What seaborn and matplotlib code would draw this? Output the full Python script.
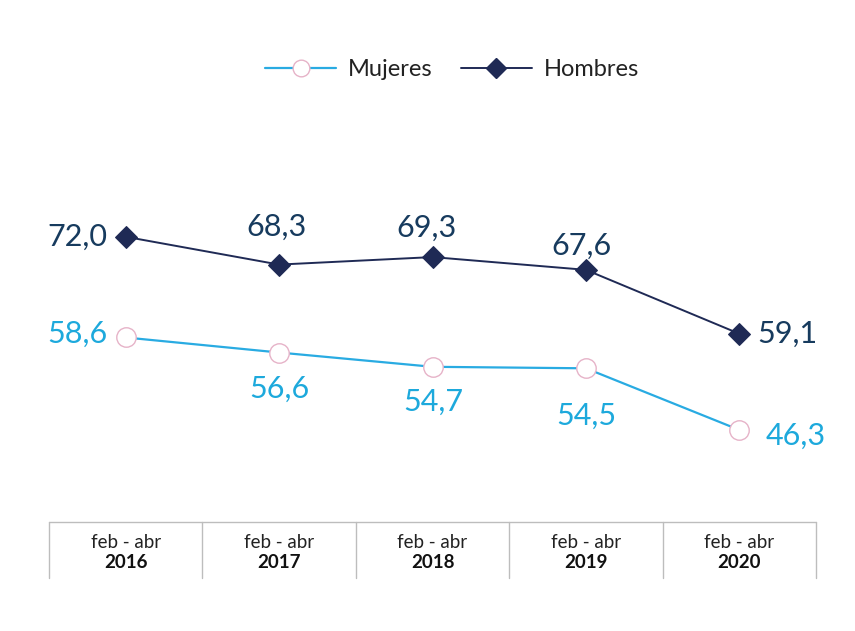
import pandas as pd
import matplotlib.pyplot as plt
import seaborn as sns
from matplotlib.lines import Line2D

# datos
periodos = ['feb - abr', 'feb - abr', 'feb - abr', 'feb - abr', 'feb - abr']
anios = ['2016', '2017', '2018', '2019', '2020']
mujeres = [58.6, 56.6, 54.7, 54.5, 46.3]
hombres = [72.0, 68.3, 69.3, 67.6, 59.1]

sns.set_style('white')
plt.rcParams['font.family'] = ['Lato', 'DejaVu Sans']

col_muj = '#29ABE2'
col_muj_txt = '#1DA9DC'
col_hom = '#1F2A55'
col_hom_txt = '#173B5E'

df = pd.DataFrame({'x': list(range(len(anios))), 'Mujeres': mujeres, 'Hombres': hombres})

fig = plt.figure(figsize=(8.55, 6.31), dpi=100)
ax = fig.add_axes([49 / 855, 1 - 522 / 631, (816 - 49) / 855, (522 - 100) / 631])

sns.lineplot(data=df, x='x', y='Mujeres', ax=ax, color=col_muj, lw=1.6,
             marker='o', markersize=14, markerfacecolor='white',
             markeredgecolor='#E6B3C8', markeredgewidth=1.0)
sns.lineplot(data=df, x='x', y='Hombres', ax=ax, color=col_hom, lw=1.4,
             marker='D', markersize=11, markerfacecolor=col_hom,
             markeredgecolor=col_hom)

ax.set_xlim(-0.5, 4.5)
ax.set_ylim(34.05, 90.2)
ax.axis('off')

def fmt(v):
    return f'{v:.1f}'.replace('.', ',')

# etiquetas: (dx, dy en puntos, ha, va)
pos_h = [(-13, 0, 'right', 'center'), (-2, 27, 'center', 'center'), (-4, 21, 'center', 'center'),
         (-3, 17, 'center', 'center'), (13, 0, 'left', 'center')]
pos_m = [(-13, 3, 'right', 'center'), (0, -26, 'center', 'center'), (1, -25, 'center', 'center'),
         (0, -34, 'center', 'center'), (19, -4, 'left', 'center')]
for i, v in enumerate(hombres):
    dx, dy, ha, va = pos_h[i]
    ax.annotate(fmt(v), (i, v), xytext=(dx, dy), textcoords='offset points',
                ha=ha, va=va, fontsize=22, color=col_hom_txt)
for i, v in enumerate(mujeres):
    dx, dy, ha, va = pos_m[i]
    ax.annotate(fmt(v), (i, v), xytext=(dx, dy), textcoords='offset points',
                ha=ha, va=va, fontsize=22, color=col_muj_txt)

# tabla inferior
x0, x1 = 49 / 855, 816 / 855
y_top, y_bot = 1 - 522 / 631, 1 - 578 / 631
fig.add_artist(Line2D([x0, x1], [y_top, y_top], color='#BDBDBD', lw=1))
ancho = (x1 - x0) / len(anios)
for k in range(len(anios) + 1):
    xx = x0 + k * ancho
    fig.add_artist(Line2D([xx, xx], [y_top, y_bot], color='#BDBDBD', lw=1))
for k, (p, a) in enumerate(zip(periodos, anios)):
    xc = x0 + (k + 0.5) * ancho
    fig.text(xc, 1 - 543 / 631, p, ha='center', va='center', fontsize=13.5, color='#222222')
    fig.text(xc, 1 - 563 / 631, a, ha='center', va='center', fontsize=13.5,
             fontweight='bold', color='#111111')

# leyenda
handles = [
    Line2D([], [], color=col_muj, lw=1.6, marker='o', markersize=12, markerfacecolor='white',
           markeredgecolor='#E6B3C8', markeredgewidth=1.0),
    Line2D([], [], color=col_hom, lw=1.4, marker='D', markersize=10, markerfacecolor=col_hom,
           markeredgecolor=col_hom),
]
fig.legend(handles, ['Mujeres', 'Hombres'], loc='center', bbox_to_anchor=(452 / 855, 1 - 70 / 631),
           ncol=2, frameon=False, fontsize=17, handlelength=3.0, columnspacing=1.2,
           handletextpad=0.5, labelcolor='#222222')

plt.savefig('out.png', dpi=100)
plt.close()
